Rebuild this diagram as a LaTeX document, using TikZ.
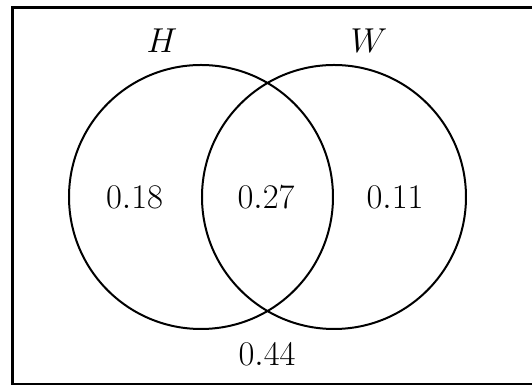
\documentclass[tikz,border=0pt]{standalone}
\usepackage{tikz}
\usetikzlibrary{positioning}

\begin{document}
\begin{tikzpicture}[
    x=0.5pt, y=0.5pt,
    set/.style={circle, draw, line width=1pt, minimum size=132pt, inner sep=0pt},
    prob/.style={font=\LARGE, inner sep=1pt},
    lbl/.style={font=\LARGE, inner sep=1pt}
]
\useasboundingbox (0,0) rectangle (532,385);
\clip (0,0) rectangle (532,385);

% Universal set
\draw[line width=1.5pt] (12.5,0.8) rectangle (560,377);

% Sets
\node[set] (h) at (201,188) {};
\node[set] (w) at (334,188) {};

% Set names
\node[lbl] (hname) at (162,344) {$H$};
\node[lbl] (wname) at (369,344) {$W$};

% Probabilities
\node[prob] (ponly) at (134.5,188) {$0.18$};
\node[prob] (pboth) at (266,188) {$0.27$};
\node[prob] (wonly) at (395,188) {$0.11$};
\node[prob] (pnone) at (267,30.5) {$0.44$};

\end{tikzpicture}
\end{document}
